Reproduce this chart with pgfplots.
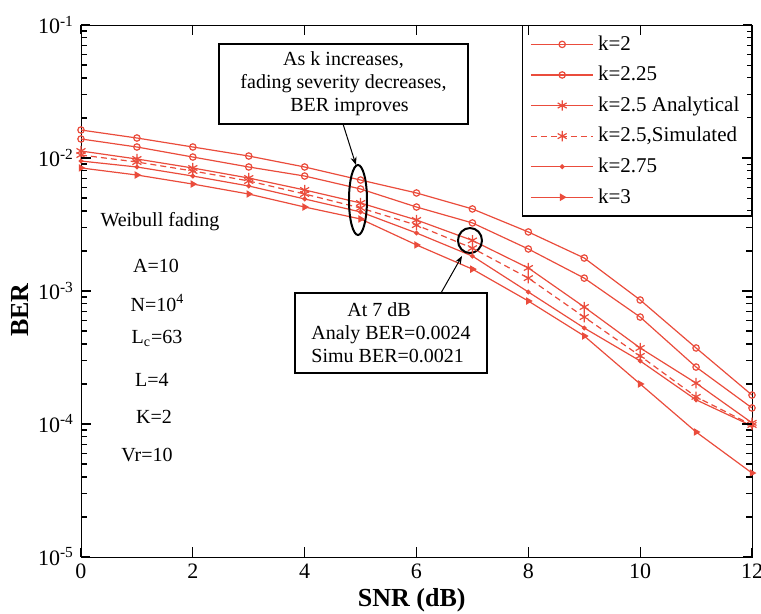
\documentclass[border=0pt]{standalone}
\usepackage{fontspec}
\setmainfont{Liberation Serif}
\usepackage{pgfplots}
\pgfplotsset{compat=1.18}
\usetikzlibrary{arrows.meta,calc}
\definecolor{lc}{RGB}{234,76,60}
\begin{document}
\begin{tikzpicture}
\begin{axis}[
  scale only axis,
  width=335.5pt, height=266pt,
  xmin=0, xmax=12, ymin=1e-5, ymax=1e-1,
  ymode=log,
  xtick={0,2,4,6,8,10,12},
  ytick={1e-5,1e-4,1e-3,1e-2,1e-1},
  yticklabels={10\textsuperscript{-5},10\textsuperscript{-4},10\textsuperscript{-3},10\textsuperscript{-2},10\textsuperscript{-1}},
  minor ytick={2e-5,3e-5,4e-5,5e-5,6e-5,7e-5,8e-5,9e-5,
               2e-4,3e-4,4e-4,5e-4,6e-4,7e-4,8e-4,9e-4,
               2e-3,3e-3,4e-3,5e-3,6e-3,7e-3,8e-3,9e-3,
               2e-2,3e-2,4e-2,5e-2,6e-2,7e-2,8e-2,9e-2},
  /pgf/number format/assume math mode=true,
  tick label style={font=\fontsize{11}{13}\selectfont},
  every tick/.append style={black, line width=0.6pt},
  xlabel={\textbf{SNR (dB)}},
  ylabel={\textbf{BER}},
  label style={font=\fontsize{13}{15}\selectfont},
  xlabel style={at={(axis description cs:0.493,-0.081)}, anchor=center},
  ylabel style={at={(axis description cs:-0.091,0.464)}, anchor=center},
  legend cell align=left,
  legend style={at={(1,1)}, anchor=north east, draw=black, line width=0.6pt,
    fill=white, font=\fontsize{10.5}{12}\selectfont, row sep=2.5pt,
    inner xsep=4pt, inner ysep=3pt},
  legend image code/.code={\draw[mark repeat=2,mark phase=2,line width=0.6pt] plot coordinates {(0cm,0cm) (0.55cm,0cm) (1.1cm,0cm)};},
  every axis plot/.append style={color=lc, line width=0.6pt},
]
\addplot[mark=o, mark size=1.6pt, mark options={solid}] coordinates {
(0,0.01624) (1,0.01414) (2,0.01210) (3,0.01035) (4,0.00856) (5,0.00683) (6,0.00546)
(7,0.00414) (8,0.00278) (9,0.00177) (10,0.000856) (11,0.000373) (12,0.000165)};
\addlegendentry{k=2}
\addplot[mark=o, mark size=1.6pt, mark options={solid}] coordinates {
(0,0.01390) (1,0.01210) (2,0.01017) (3,0.00856) (4,0.00732) (5,0.00585) (6,0.00428)
(7,0.00325) (8,0.00207) (9,0.00125) (10,0.000637) (11,0.000268) (12,0.000132)};
\addlegendentry{k=2.25}
\addplot[mark=asterisk, mark size=2.6pt, mark options={solid}] coordinates {
(0,0.01129) (1,0.00983) (2,0.00841) (3,0.00707) (4,0.00575) (5,0.00459) (6,0.00342)
(7,0.0024) (8,0.00149) (9,0.000758) (10,0.000373) (11,0.000203) (12,0.000102)};
\addlegendentry{k=2.5 Analytical}
\addplot[dash pattern=on 3pt off 2pt, mark=asterisk, mark size=2.6pt, mark options={solid}] coordinates {
(0,0.01053) (1,0.00933) (2,0.00799) (3,0.00672) (4,0.00536) (5,0.00421) (6,0.00313)
(7,0.0021) (8,0.00125) (9,0.000637) (10,0.000325) (11,0.000160) (12,0.0000983)};
\addlegendentry{k=2.5,Simulated}
\addplot[mark=*, mark size=0.9pt, mark options={solid}] coordinates {
(0,0.00949) (1,0.00856) (2,0.00732) (3,0.00616) (4,0.00492) (5,0.00393) (6,0.00273)
(7,0.00183) (8,0.000983) (9,0.000527) (10,0.000298) (11,0.000152) (12,0.0000966)};
\addlegendentry{k=2.75}
\addplot[mark=triangle*, mark size=1.6pt, mark options={solid, rotate=-90}] coordinates {
(0,0.00842) (1,0.00745) (2,0.00637) (3,0.00536) (4,0.00428) (5,0.00348) (6,0.00222)
(7,0.00146) (8,0.000841) (9,0.000459) (10,0.000200) (11,0.0000871) (12,0.0000428)};
\addlegendentry{k=3}

\coordinate (SW) at (rel axis cs:0,0);
\coordinate (SE) at (rel axis cs:1,0);
\coordinate (NW) at (rel axis cs:0,1);
\coordinate (NE) at (rel axis cs:1,1);

% annotations
\begin{scope}[font=\fontsize{10}{11.5}\selectfont]
\node at (rel axis cs:0.1177,0.6297) {Weibull fading};
\node at (rel axis cs:0.1118,0.5470) {A=10};
\node at (rel axis cs:0.1140,0.4774) {N=10\textsuperscript{4}};
\node at (rel axis cs:0.1133,0.4113) {L\textsubscript{c}=63};
\node at (rel axis cs:0.1058,0.3327) {L=4};
\node at (rel axis cs:0.1088,0.2632) {K=2};
\node at (rel axis cs:0.0984,0.1917) {Vr=10};
\node[draw=black, line width=0.6pt, fill=white, minimum width=124.5pt, minimum height=40pt, align=center, inner sep=2pt]
  at (rel axis cs:0.3912,0.8891) {As k increases,\\fading severity decreases,\\\hspace*{6pt}BER improves};
\node[draw=black, line width=0.6pt, fill=white, minimum width=96pt, minimum height=40pt, align=left, inner sep=2pt]
  at (rel axis cs:0.4620,0.4211) {\hspace*{18pt}At 7 dB\\Analy BER=0.0024\\Simu BER=0.0021};
\end{scope}
\draw[black, line width=1pt] (rel axis cs:0.4128,0.6711) ellipse [x radius=4.5pt, y radius=17.5pt];
\draw[black, line width=1pt] (rel axis cs:0.5797,0.5949) ellipse [x radius=6pt, y radius=6.25pt];
\draw[black, line width=0.5pt, -{Stealth[length=4pt]}] (rel axis cs:0.3905,0.8139) -- (rel axis cs:0.4098,0.7368);
\draw[black, line width=0.5pt, -{Stealth[length=4pt]}] (rel axis cs:0.5365,0.4962) -- (rel axis cs:0.5678,0.5658);
\end{axis}
% axis tick marks (inward, both sides)
\foreach \r in {0.166667,0.333333,0.5,0.666667,0.833333} {
  \draw[black, line width=0.6pt] ($(SW)!\r!(SE)$) -- ++(0,5pt);
  \draw[black, line width=0.6pt] ($(NW)!\r!(NE)$) -- ++(0,-5pt);
}
\foreach \r in {0.25,0.5,0.75} {
  \draw[black, line width=0.6pt] ($(SW)!\r!(NW)$) -- ++(5pt,0);
  \draw[black, line width=0.6pt] ($(SE)!\r!(NE)$) -- ++(-5pt,0);
}
\foreach \j in {0,1,2,3} {
  \foreach \m in {0.30103,0.47712,0.60206,0.69897,0.77815,0.84510,0.90309,0.95424} {
    \pgfmathsetmacro{\rr}{(\j+\m)/4}
    \draw[black, line width=0.5pt] ($(SW)!\rr!(NW)$) -- ++(2.5pt,0);
    \draw[black, line width=0.5pt] ($(SE)!\rr!(NE)$) -- ++(-2.5pt,0);
  }
}
\pgfresetboundingbox
\path[use as bounding box] ([shift={(-40.5pt,-28.5pt)}]SW) rectangle ([shift={(4.5pt,12.5pt)}]NE);
\end{tikzpicture}
\end{document}
